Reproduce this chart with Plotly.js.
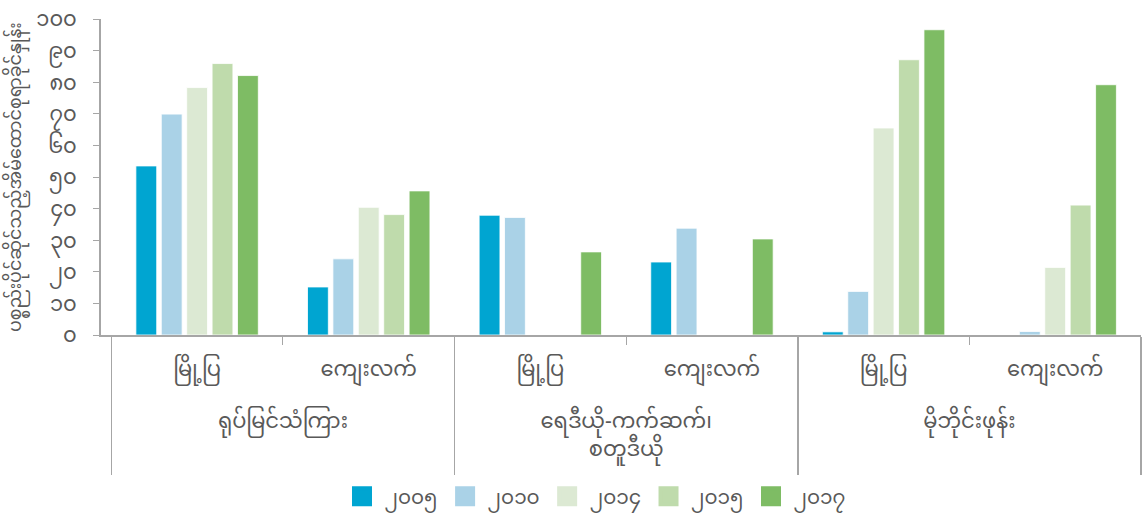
<!DOCTYPE html>
<html>
<head>
<meta charset="utf-8">
<script src="https://cdn.plot.ly/plotly-3.0.1.min.js"></script>
<style>html,body{margin:0;padding:0;background:#fff;}#chart{width:1145px;height:524px;}</style>
</head>
<body>
<div id="chart"></div>
<script>
const outerCats = ["ရုပ်မြင်သံကြား","ရုပ်မြင်သံကြား","ရေဒီယို-ကက်ဆက်၊<br>စတူဒီယို","ရေဒီယို-ကက်ဆက်၊<br>စတူဒီယို","မိုဘိုင်းဖုန်း","မိုဘိုင်းဖုန်း"];
const innerCats = ["မြို့ပြ","ကျေးလက်","မြို့ပြ","ကျေးလက်","မြို့ပြ","ကျေးလက်"];
const seriesNames = ["၂၀၀၅","၂၀၁၀","၂၀၁၄","၂၀၁၅","၂၀၁၇"];
const v2005 = [53.5, 15.2, 37.9, 23.1, 1.0, null];
const v2010 = [69.9, 24.1, 37.2, 33.8, 13.8, 1.1];
const v2014 = [78.3, 40.4, null, null, 65.5, 21.4];
const v2015 = [85.9, 38.1, null, null, 87.1, 41.1];
const v2017 = [82.1, 45.6, 26.3, 30.4, 96.6, 79.2];
const tickVals = [0,10,20,30,40,50,60,70,80,90,100];
const tickText = ["၀","၁၀","၂၀","၃၀","၄၀","၅၀","၆၀","၇၀","၈၀","၉၀","၁၀၀"];
const yTitle = "ပစ္စည်းပိုင်ဆိုင်သည့်အိမ်ထောင်စုရာခိုင်နှုန်း";
const colors = ["#00a5d1","#aad2e7","#dce9d3","#bfdbac","#7ebc64"];
const values = [v2005, v2010, v2014, v2015, v2017];

// inner labels get a tiny spacer line so the outer row sits lower, as in the reference
const innerLabels = innerCats.map(c => c + "<br><span style='font-size:10px'>\u00a0</span>");

const font = "'Noto Sans Myanmar', 'Noto Sans', sans-serif";
const traces = values.map((v, i) => ({
  type: 'bar',
  name: seriesNames[i],
  x: [outerCats, innerLabels],
  y: v,
  showlegend: false,
  marker: {color: colors[i], line: {color: '#ffffff', width: 0.8}}
}));
// legend-only entries with larger square swatches
values.forEach((v, i) => {
  traces.push({
    type: 'scatter', mode: 'markers', name: seriesNames[i],
    x: [[outerCats[0]], [innerLabels[0]]], y: [null],
    marker: {symbol: 'square', color: colors[i], size: 16, line: {color: colors[i], width: 4}},
    hoverinfo: 'skip'
  });
});

const layout = {
  width: 1145, height: 524,
  margin: {l: 101, r: 4, t: 19, b: 189},
  paper_bgcolor: '#fff', plot_bgcolor: '#fff',
  barmode: 'group', bargap: 0.26, bargroupgap: 0.18,
  font: {family: font, color: '#595959', size: 20},
  xaxis: {
    type: 'multicategory',
    range: [-0.56, 5.5],
    showline: true, linecolor: '#a6a6a6', linewidth: 2,
    ticks: 'outside', tickcolor: '#a6a6a6', ticklen: 8,
    ticklabelstandoff: 14,
    showdividers: true, dividercolor: '#a6a6a6', dividerwidth: 1.5,
    tickfont: {size: 21, color: '#595959'},
    showgrid: false, zeroline: false
  },
  yaxis: {
    range: [0, 100],
    tickvals: tickVals, ticktext: tickText,
    showline: true, linecolor: '#a6a6a6', linewidth: 2,
    ticks: 'outside', tickcolor: '#a6a6a6', ticklen: 6,
    ticklabelstandoff: 12, ticklabeloverflow: 'allow',
    showgrid: false, zeroline: false,
    tickfont: {size: 21, color: '#595959'}
  },
  annotations: [{
    text: yTitle, textangle: -90, showarrow: false,
    xref: 'paper', yref: 'paper', x: 0, y: 0.5, xanchor: 'center', yanchor: 'middle',
    xshift: -84, font: {size: 17.5, color: '#595959'}
  }],
  legend: {orientation: 'h', x: 0.475, xanchor: 'center', y: -0.51, yanchor: 'middle',
           font: {size: 20, color: '#595959'}, itemwidth: 35},
  showlegend: true
};
Plotly.newPlot('chart', traces, layout, {displayModeBar: false, staticPlot: true});
</script>
</body>
</html>
